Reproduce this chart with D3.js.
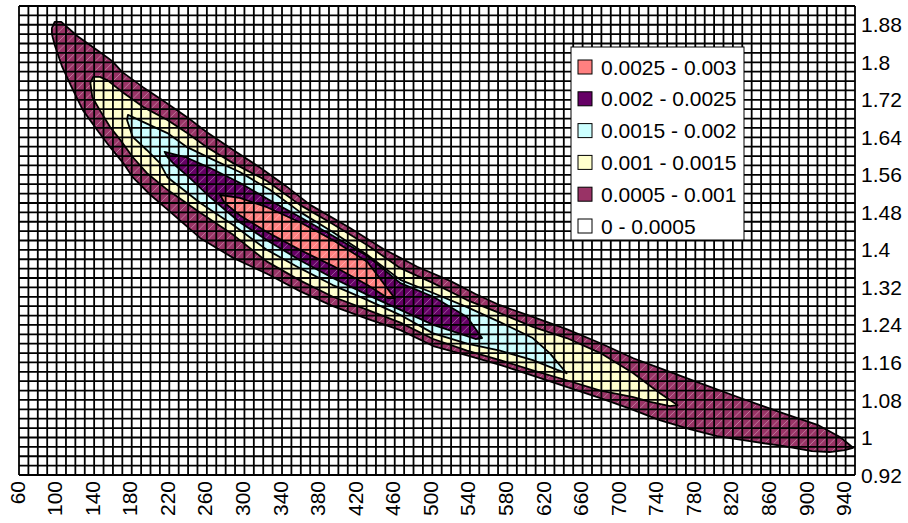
<!DOCTYPE html>
<html><head><meta charset="utf-8">
<script src="https://cdn.jsdelivr.net/npm/d3@7"></script>
<style>
body{margin:0;background:#fff}
svg{display:block}
text{font-family:"Liberation Sans",Arial,sans-serif;fill:#000}
</style>
</head><body>
<svg id="chart" width="908" height="523"></svg>
<script>
// ---- categories / ticks ----
const xCategories = d3.range(60, 951, 10);          // 60 .. 950 step 10
const ySeries = d3.range(0, 51).map(i => +(0.92 + 0.02 * i).toFixed(2)); // 0.92 .. 1.92
const xTickLabels = [60,100,140,180,220,260,300,340,380,420,460,500,540,580,620,660,700,740,780,820,860,900,940];
const yTickLabels = [0.92,1,1.08,1.16,1.24,1.32,1.4,1.48,1.56,1.64,1.72,1.8,1.88];

// ---- legend ----
const bandLabels = ["0.0025 - 0.003","0.002 - 0.0025","0.0015 - 0.002","0.001 - 0.0015","0.0005 - 0.001","0 - 0.0005"];
const bandColors = ["#FF8080","#660066","#CCFFFF","#FFFFCC","#993366","#FFFFFF"];

// ---- contour regions: [x category value, series value] ----
const region0005 = [[95,1.873],[98,1.886],[105,1.886],[122,1.856],[143,1.826],[159,1.803],[170,1.779],[192,1.747],[212,1.720],[239,1.683],[260,1.651],[288,1.613],[317,1.575],[343,1.538],[370,1.496],[412,1.447],[448,1.402],[484,1.364],[519,1.334],[546,1.306],[572,1.282],[607,1.257],[643,1.231],[679,1.201],[714,1.169],[750,1.142],[785,1.116],[831,1.082],[873,1.052],[910,1.027],[934,1.001],[948,0.978],
  [939,0.973],[923,0.969],[904,0.971],[873,0.982],[838,0.992],[803,1.003],[774,1.018],[742,1.037],[711,1.061],[679,1.084],[643,1.108],[607,1.132],[572,1.155],[537,1.175],[501,1.195],[466,1.229],[431,1.253],[394,1.280],[359,1.312],[324,1.349],[288,1.383],[253,1.425],[221,1.481],[200,1.517],[181,1.555],[171,1.585],[157,1.619],[143,1.656],[128,1.698],[116,1.747],[106,1.790],[98,1.837],[95,1.860]];
const region001 = [[136,1.756],[139,1.769],[146,1.769],[154,1.762],[171,1.735],[192,1.705],[218,1.677],[239,1.649],[260,1.619],[288,1.585],[324,1.547],[359,1.496],[394,1.455],[431,1.410],[466,1.361],[501,1.329],[537,1.293],[572,1.265],[607,1.236],[643,1.212],[679,1.180],[714,1.137],[742,1.095],[761,1.069],
  [753,1.067],[732,1.076],[714,1.086],[679,1.100],[643,1.122],[607,1.143],[572,1.165],[537,1.185],[501,1.210],[466,1.245],[431,1.272],[394,1.300],[359,1.335],[324,1.375],[288,1.432],[253,1.479],[218,1.528],[196,1.564],[181,1.598],[168,1.634],[157,1.662],[146,1.698],[138,1.726]];
const region0015 = [[176,1.688],[192,1.673],[218,1.649],[239,1.619],[267,1.592],[295,1.566],[327,1.528],[359,1.481],[394,1.438],[431,1.389],[466,1.336],[501,1.308],[537,1.278],[572,1.246],[607,1.212],[625,1.180],[643,1.137],
  [633,1.144],[607,1.165],[572,1.185],[537,1.200],[501,1.222],[466,1.261],[431,1.293],[394,1.325],[359,1.361],[324,1.400],[288,1.453],[253,1.500],[218,1.555],[210,1.585],[196,1.613],[181,1.641],[175,1.677]];
const region002 = [[215,1.609],[237,1.598],[263,1.575],[295,1.543],[327,1.506],[359,1.470],[394,1.430],[431,1.387],[466,1.329],[501,1.300],[537,1.257],[553,1.212],
  [546,1.210],[530,1.221],[501,1.240],[466,1.272],[431,1.304],[394,1.340],[359,1.378],[327,1.417],[295,1.459],[263,1.513],[242,1.553],[226,1.581],[218,1.598]];
const region0025 = [[274,1.517],[295,1.511],[324,1.491],[359,1.459],[394,1.421],[431,1.374],[460,1.297],
  [453,1.297],[431,1.325],[394,1.366],[359,1.400],[324,1.438],[295,1.474],[279,1.500]];

const regions = [
  {pts: region0005, color: bandColors[4]},
  {pts: region001,  color: bandColors[3]},
  {pts: region0015, color: bandColors[2]},
  {pts: region002,  color: bandColors[1]},
  {pts: region0025, color: bandColors[0]}
];

// ---- layout ----
const svg = d3.select("#chart");
const pLeft = 19, pRight = 855, pTop = 6, pBottom = 475;
const x = d3.scaleLinear().domain([60, 950]).range([pLeft, pRight]);
const y = d3.scaleLinear().domain([0.92, 1.92]).range([pBottom, pTop]);

svg.append("rect").attr("width", 908).attr("height", 523).attr("fill", "#fff");

const line = d3.line().x(d => x(d[0])).y(d => y(d[1])).curve(d3.curveLinearClosed);

svg.append("defs").append("clipPath").attr("id", "surf")
  .append("path").attr("d", line(region0005));

// fills
svg.append("g").selectAll("path").data(regions).join("path")
  .attr("d", d => line(d.pts)).attr("fill", d => d.color).attr("stroke", "none");

// light triangulation diagonals on the surface
const nX = xCategories.length, nY = ySeries.length;
const diag = [];
for (let k = -(nY - 1); k <= nX - 1; k++) {
  const i0 = Math.max(0, k), i1 = Math.min(nX - 1, k + nY - 1);
  if (i1 < i0) continue;
  diag.push([[xCategories[i0], ySeries[i0 - k]], [xCategories[i1], ySeries[i1 - k]]]);
}
svg.append("g").attr("clip-path", "url(#surf)").selectAll("line").data(diag).join("line")
  .attr("x1", d => x(d[0][0])).attr("y1", d => y(d[0][1]))
  .attr("x2", d => x(d[1][0])).attr("y2", d => y(d[1][1]))
  .attr("stroke", "#fff").attr("stroke-opacity", 0.35).attr("stroke-width", 1);

// grid
const grid = svg.append("g").attr("stroke", "#000").attr("stroke-width", 1.8);
grid.selectAll("line.v").data(xCategories).join("line").attr("class", "v")
  .attr("x1", d => x(d)).attr("x2", d => x(d)).attr("y1", pTop).attr("y2", pBottom);
grid.selectAll("line.h").data(ySeries).join("line").attr("class", "h")
  .attr("y1", d => y(d)).attr("y2", d => y(d)).attr("x1", pLeft).attr("x2", pRight);

// contour outlines
svg.append("g").selectAll("path").data(regions).join("path")
  .attr("d", d => line(d.pts)).attr("fill", "none").attr("stroke", "#000")
  .attr("stroke-width", 1.8).attr("stroke-linejoin", "round");

// axes labels
svg.append("g").selectAll("text").data(yTickLabels).join("text")
  .attr("x", pRight + 6).attr("y", d => y(d)).attr("dy", "0.36em")
  .attr("font-size", 21).text(d => d);
svg.append("g").selectAll("text").data(xTickLabels).join("text")
  .attr("transform", d => `translate(${x(d) - 2},${pBottom + 6}) rotate(-90)`)
  .attr("text-anchor", "end").attr("dy", "0.36em")
  .attr("font-size", 21).text(d => d);

// legend
const lg = svg.append("g");
lg.append("rect").attr("x", 571).attr("y", 47).attr("width", 173).attr("height", 193)
  .attr("fill", "#fff").attr("stroke", "#000").attr("stroke-width", 1);
const items = lg.selectAll("g.item").data(bandLabels).join("g").attr("class", "item")
  .attr("transform", (d, i) => `translate(578,${67 + i * 31.8})`);
items.append("rect").attr("x", 0).attr("y", -7).attr("width", 14).attr("height", 14)
  .attr("fill", (d, i) => bandColors[i]).attr("stroke", "#000").attr("stroke-width", 1);
items.append("text").attr("x", 23).attr("dy", "0.36em").attr("font-size", 21).text(d => d);
</script>
</body></html>
